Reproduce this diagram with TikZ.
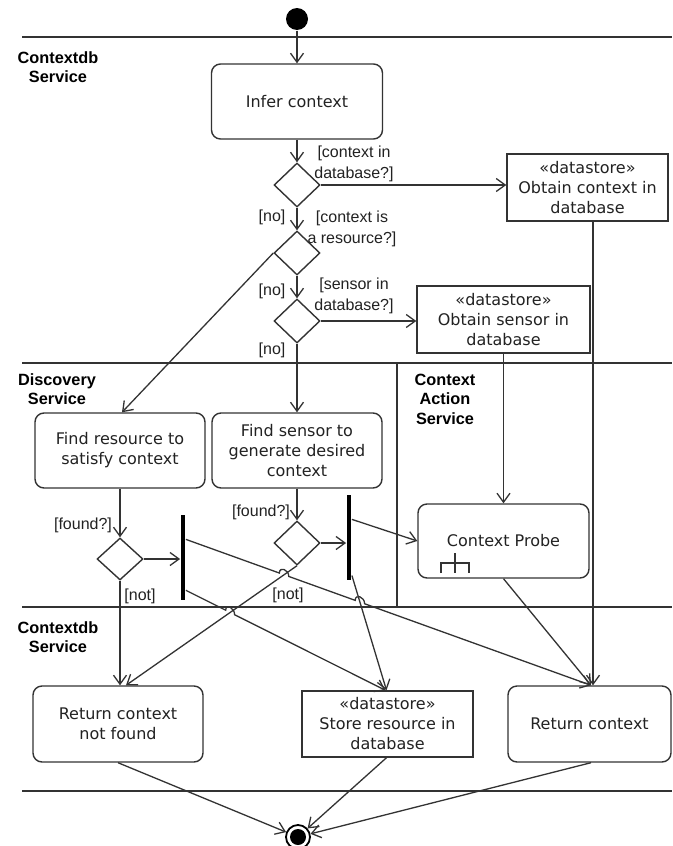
\documentclass[tikz,border=0pt]{standalone}
\usepackage{fontspec}
\setmainfont{DejaVu Sans}
\newfontfamily\guardfont{Liberation Sans}
\usetikzlibrary{shapes.geometric,arrows.meta,calc,intersections}
\definecolor{linec}{HTML}{333333}
\definecolor{txt}{HTML}{222222}
\begin{document}
\begin{tikzpicture}[x=1pt,y=-1pt,
  every path/.style={line width=1.3pt},
  act/.style={draw=linec, rounded corners=9pt, line width=1.4pt, minimum width=171pt, minimum height=75pt, align=center, text=txt, font=\fontsize{16}{20}\selectfont, inner sep=0pt},
  dstore/.style={draw=linec, rectangle, line width=1.4pt, minimum height=67pt, align=center, text=txt, font=\fontsize{16}{20}\selectfont, inner sep=0pt},
  dec/.style={diamond, draw=linec, line width=1.4pt, minimum width=46pt, minimum height=44pt, inner sep=0pt},
  bar/.style={rectangle, fill=black, minimum width=4.5pt, minimum height=85pt, inner sep=0pt},
  guard/.style={align=center, inner sep=0pt, text=txt, font=\guardfont\fontsize{16}{21}\selectfont},
  lanelabel/.style={align=center, inner sep=0pt, text=black, font=\guardfont\bfseries\fontsize{16.3}{19.5}\selectfont},
  laneline/.style={draw=linec, line width=1.5pt},
  arr/.style={draw=linec, line width=1.3pt, -{Straight Barb[length=9pt,width=13pt,line width=1.3pt]}}
]
\useasboundingbox (0,0) rectangle (672,846);
\fill[white] (0,0) rectangle (672,846);

% swimlane lines
\draw[laneline] (22,37) -- (672,37);
\draw[laneline] (22,363) -- (672,363);
\draw[laneline] (22,607) -- (672,607);
\draw[laneline] (22,791) -- (672,791);
\draw[laneline] (397,363) -- (397,607);

% lane labels
\node[lanelabel] (lane1) at (58,67) {Contextdb\\Service};
\node[lanelabel] (lane2) at (57,389) {Discovery\\Service};
\node[lanelabel] (lane3) at (445,399) {Context\\Action\\Service};
\node[lanelabel] (lane4) at (58,637) {Contextdb\\Service};

% nodes
\node[circle, fill=black, minimum size=22pt, inner sep=0pt] (init) at (297,19) {};
\node[act] (infer) at (297,101.5) {Infer context};
\node[dec] (d1) at (297,185) {};
\node[dec] (d2) at (297,253) {};
\node[dec] (d3) at (297,321) {};
\node[dstore, minimum width=161pt] (ds1) at (587.5,187.5) {«datastore»\\Obtain context in\\database};
\node[dstore, minimum width=173pt] (ds2) at (503.5,319.5) {«datastore»\\Obtain sensor in\\database};

\node[act, minimum width=170pt] (fr) at (120,450.5) {Find resource to\\satisfy context};
\node[act, minimum width=170pt] (fs) at (297,450.5) {Find sensor to\\generate desired\\context};
\node[dec, minimum height=42pt] (d4) at (120,559) {};
\node[dec] (d5) at (297,543) {};
\node[bar] (bar1) at (183,557.5) {};
\node[bar] (bar2) at (349,537.5) {};
\node[act, minimum width=171pt, minimum height=74pt] (cp) at (503.5,541) {Context Probe};

\node[act, minimum width=170pt, minimum height=76pt] (rcnf) at (118,724) {Return context\\not found};
\node[dstore, minimum width=171pt, minimum height=66pt] (srd) at (387.5,724) {«datastore»\\Store resource in\\database};
\node[act, minimum width=163pt, minimum height=76pt] (rc) at (589.5,724) {Return context};

\node[circle, draw=black, line width=1.8pt, minimum size=24pt, inner sep=0pt] (final) at (298,837) {};
\fill[black] (final.center) circle[radius=8];

% call-behaviour (rake) icon in Context Probe
\draw[linec, line width=1.1pt] (455,553) -- (455,573) (441,573) -- (441,563) -- (469,563) -- (469,573);

% guards
\node[guard] (g1) at (354,164) {[context in\\database?]};
\node[guard] (g2) at (352,229) {[context is\\a resource?]};
\node[guard] (g3) at (354,296) {[sensor in\\database?]};
\node[guard] (no1) at (272,217) {[no]};
\node[guard] (no2) at (272,291) {[no]};
\node[guard] (no3) at (272,350) {[no]};
\node[guard] (f1) at (83,525) {[found?]};
\node[guard] (f2) at (261,512) {[found?]};
\node[guard] (n1) at (140,596) {[not]};
\node[guard] (n2) at (288,595) {[not]};

\coordinate (vx) at (593,0);

% connectors
\draw[arr] (init) -- (infer.north);
\draw[arr] (infer.south) -- (d1.north);
\draw[arr] (d1.east) -- (d1.east -| ds1.west);
\draw[arr] (d1.south) -- (d2.north);
\draw[arr] (d2.west) -- ([xshift=2pt]fr.north);
\draw[arr] (d2.south) -- (d3.north);
\draw[arr] (d3.east) -- (d3.east -| ds2.west);
\draw[arr] (d3.south) -- (fs.north);
\draw[arr] (ds1.south -| vx) -- (rc.north -| vx);
\draw[arr] (ds2.south) -- (cp.north);

\draw[arr] (fr.south) -- (d4.north);
\draw[arr] (d4.east) -- (d4.east -| bar1.west);
\draw[arr] (d4.south) -- (d4.south |- rcnf.north);
\draw[arr] (fs.south) -- (d5.north);
\draw[arr] (d5.east) -- (d5.east -| bar2.west);
\draw[arr, name path=l16] (d5.south) -- ([xshift=8pt]rcnf.north);

% fork outputs with line jumps
\coordinate (s17) at ($(bar1.north east)!0.29!(bar1.south east)$);
\coordinate (e17) at ([xshift=1.5pt]rc.north);
\coordinate (s18) at ($(bar1.north east)!0.88!(bar1.south east)$);
\coordinate (e18) at ([xshift=-2pt]srd.north);
\coordinate (s20) at ($(bar2.north east)!0.94!(bar2.south east)$);
\coordinate (e20) at ([xshift=-1pt]srd.north);

\draw[arr, name path=l20] (s20) -- (e20);
\path[name path=l17] (s17) -- (e17);
\path[name path=l18] (s18) -- (e18);
\path[name intersections={of=l17 and l16, by=x1}];
\path[name intersections={of=l17 and l20, by=x2}];
\path[name intersections={of=l18 and l16, by=x3}];

\coordinate (x1a) at ($(x1)!5pt!(s17)$);
\coordinate (x1b) at ($(x1)!5pt!(e17)$);
\coordinate (x2a) at ($(x2)!5pt!(s17)$);
\coordinate (x2b) at ($(x2)!5pt!(e17)$);
\coordinate (x3a) at ($(x3)!5pt!(s18)$);
\coordinate (x3b) at ($(x3)!5pt!(e18)$);

\draw[arr] (s17) -- (x1a) .. controls ($(x1a)+(0,-7)$) and ($(x1b)+(0,-7)$) .. (x1b)
  -- (x2a) .. controls ($(x2a)+(0,-7)$) and ($(x2b)+(0,-7)$) .. (x2b) -- (e17);
\draw[arr] (s18) -- (x3a) .. controls ($(x3a)+(0,-7)$) and ($(x3b)+(0,-7)$) .. (x3b) -- (e18);

\draw[arr] ($(bar2.north east)!0.29!(bar2.south east)$) -- (cp.west);
\draw[arr] (cp.south) -- ([xshift=1.5pt]rc.north);

\draw[arr] (rcnf.south) -- (final);
\draw[arr] ([xshift=-1pt]srd.south) -- (final);
\draw[arr] ([xshift=1.5pt]rc.south) -- (final);
\end{tikzpicture}
\end{document}
